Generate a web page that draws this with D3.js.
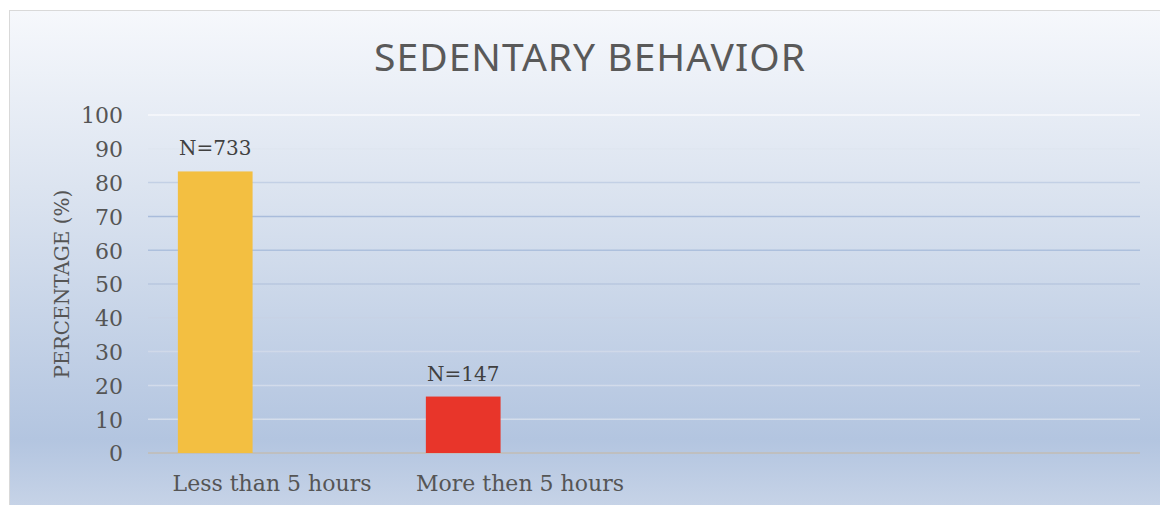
<!DOCTYPE html>
<html lang="en">
<head>
<meta charset="utf-8">
<script src="https://d3js.org/d3.v7.min.js"></script>
<style type="text/css">
body { margin: 0; background: #fff; }
.axis text { font: 22px "DejaVu Serif", serif; fill: #555; }
.axis path, .axis line { display: none; }
</style>
</head>
<body>
<script type="text/javascript">
// chart data
var categories = ["Less than 5 hours", "More then 5 hours", " ", "  "];
var seriesKeys = ["percent", "blank"];
var percentValues = [83.3, 16.7, null, null];
var barLabels = ["N=733", "N=147", "", ""];
var barColors = ["#f3bf41", "#e8352a"];
var yTicks = [0, 10, 20, 30, 40, 50, 60, 70, 80, 90, 100];

var W = 1160, H = 505;
var margin = {top: 115, right: 20, bottom: 52, left: 148};
var width = 1140 - margin.left,
    height = 453 - margin.top;

var svg = d3.select("body").append("svg")
    .attr("width", W)
    .attr("height", H);

var defs = svg.append("defs");
var bg = defs.append("linearGradient")
    .attr("id", "bgGrad")
    .attr("x1", 0).attr("y1", 0).attr("x2", 0).attr("y2", 1);
bg.append("stop").attr("offset", "0%").attr("stop-color", "#f6f8fc");
bg.append("stop").attr("offset", "35%").attr("stop-color", "#dce4f0");
bg.append("stop").attr("offset", "85%").attr("stop-color", "#b3c5e0");
bg.append("stop").attr("offset", "100%").attr("stop-color", "#c9d5e8");

// grid gradient is in the plot group's coordinates
var gg = defs.append("linearGradient")
    .attr("id", "gridGrad")
    .attr("gradientUnits", "userSpaceOnUse")
    .attr("x1", 0).attr("y1", 0).attr("x2", 0).attr("y2", height);
gg.append("stop").attr("offset", "0%").attr("stop-color", "#f8f9fc");
gg.append("stop").attr("offset", "10%").attr("stop-color", "#dfe6f0");
gg.append("stop").attr("offset", "20%").attr("stop-color", "#c3d0e5");
gg.append("stop").attr("offset", "30%").attr("stop-color", "#a9bcdb");
gg.append("stop").attr("offset", "40%").attr("stop-color", "#adc0dd");
gg.append("stop").attr("offset", "50%").attr("stop-color", "#b8c7df");
gg.append("stop").attr("offset", "60%").attr("stop-color", "#c7d2e5");
gg.append("stop").attr("offset", "70%").attr("stop-color", "#d0d9e9");
gg.append("stop").attr("offset", "100%").attr("stop-color", "#d6dfec");

svg.append("rect")
    .attr("x", 9.5).attr("y", 10.5)
    .attr("width", W).attr("height", H)
    .attr("fill", "url(#bgGrad)")
    .attr("stroke", "#d9d9d9");

svg.append("text")
    .attr("x", 590)
    .attr("y", 71)
    .attr("text-anchor", "middle")
    .style("font-family", "'Noto Sans', sans-serif")
    .style("font-size", "39px")
    .style("letter-spacing", "1px")
    .attr("fill", "#595959")
    .text("SEDENTARY BEHAVIOR");

var g = svg.append("g")
    .attr("transform", "translate(" + margin.left + "," + margin.top + ")");

var y = d3.scaleLinear().domain([0, 100]).range([height, 0]);
var x = d3.scaleBand().domain(categories).range([0, width]).padding(0);
var xs = d3.scaleBand().domain(seriesKeys).range([0, x.bandwidth()])
    .paddingInner(0.342).paddingOuter(0.263);

// gridlines
g.selectAll(".grid")
    .data(yTicks.filter(function(d){ return d > 0; }))
    .enter().append("line")
    .attr("class", "grid")
    .attr("x1", 0).attr("x2", width)
    .attr("y1", function(d){ return y(d); })
    .attr("y2", function(d){ return y(d) + 0.01; })
    .attr("stroke", "url(#gridGrad)")
    .attr("stroke-width", 1.5);

g.append("g")
    .attr("class", "axis")
    .attr("transform", "translate(-15,0)")
    .call(d3.axisLeft(y).tickValues(yTicks).tickSize(0).tickPadding(10))
    .selectAll("text").attr("dy", "0.36em");

g.append("g")
    .attr("class", "axis")
    .attr("transform", "translate(0," + height + ")")
    .call(d3.axisBottom(x).tickSize(0).tickPadding(22));

g.append("line")
    .attr("x1", 0).attr("x2", width)
    .attr("y1", height).attr("y2", height)
    .attr("stroke", "#bfbfbf")
    .attr("stroke-width", 2);

var bars = g.selectAll(".bar")
    .data(categories.map(function(c, i){ return {cat: c, v: percentValues[i], lab: barLabels[i], i: i}; })
      .filter(function(d){ return d.v != null; }))
    .enter();

bars.append("rect")
    .attr("x", function(d){ return x(d.cat) + xs("percent"); })
    .attr("y", function(d){ return y(d.v); })
    .attr("width", xs.bandwidth())
    .attr("height", function(d){ return height - y(d.v); })
    .attr("fill", function(d){ return barColors[d.i]; });

bars.append("text")
    .attr("x", function(d){ return x(d.cat) + xs("percent") + xs.bandwidth() / 2; })
    .attr("y", function(d){ return y(d.v) - 16; })
    .attr("text-anchor", "middle")
    .style("font", "20px 'DejaVu Serif', serif")
    .attr("fill", "#404040")
    .text(function(d){ return d.lab; });

svg.append("text")
    .attr("transform", "translate(69,284) rotate(-90)")
    .attr("text-anchor", "middle")
    .style("font", "20px 'DejaVu Serif', serif")
    .attr("fill", "#555")
    .text("PERCENTAGE (%)");
</script>
</body>
</html>
